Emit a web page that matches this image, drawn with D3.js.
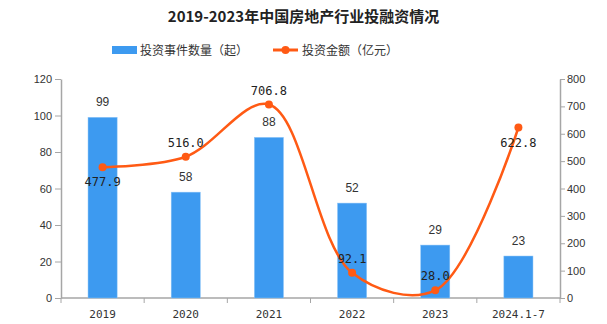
<!DOCTYPE html>
<html>
<head>
<meta charset="utf-8">
<script src="https://cdn.jsdelivr.net/npm/d3@7"></script>
<style>
  body { margin: 0; background: #fff; }
  svg { display: block; }
</style>
</head>
<body>
<div id="chart"></div>
<script>
// categories and values
var years = ["2019", "2020", "2021", "2022", "2023", "2024.1-7"];
var dealCounts = [99, 58, 88, 52, 29, 23];
var amounts = [477.9, 516.0, 706.8, 92.1, 28.0, 622.8];
var amountLabelBelow = [true, false, false, false, false, true];
var leftTicks = [0, 20, 40, 60, 80, 100, 120];
var rightTicks = [0, 100, 200, 300, 400, 500, 600, 700, 800];

var width = 607, height = 324,
    margin = {top: 79, right: 47, bottom: 26, left: 61},
    w = width - margin.left - margin.right,
    h = height - margin.top - margin.bottom;

var barColor = "#3d9af0", lineColor = "#ff5a14", axisColor = "#a6a6a6";
var monoFont = "'DejaVu Sans Mono', 'Liberation Mono', monospace";
var sansFont = "'Liberation Sans', Arial, sans-serif";
var cjkFont = "'Noto Sans CJK SC', sans-serif";

var svg = d3.select("#chart").append("svg")
    .attr("width", width).attr("height", height);

svg.append("text")
    .attr("x", width / 2).attr("y", 22)
    .attr("text-anchor", "middle")
    .attr("font-family", cjkFont)
    .attr("font-weight", "bold")
    .attr("font-size", 15)
    .attr("fill", "#222")
    .text("2019-2023年中国房地产行业投融资情况");

// legend
var lg = svg.append("g").attr("font-family", cjkFont).attr("font-size", 12).attr("fill", "#333");
lg.append("rect").attr("x", 112).attr("y", 46).attr("width", 25).attr("height", 8).attr("fill", barColor);
lg.append("text").attr("x", 140).attr("y", 55).text("投资事件数量（起）");
lg.append("line").attr("x1", 273).attr("x2", 298).attr("y1", 50).attr("y2", 50)
    .attr("stroke", lineColor).attr("stroke-width", 3);
lg.append("circle").attr("cx", 285.5).attr("cy", 50).attr("r", 4).attr("fill", lineColor);
lg.append("text").attr("x", 302).attr("y", 55).text("投资金额（亿元）");

var g = svg.append("g").attr("transform", "translate(" + margin.left + "," + margin.top + ")");

var x = d3.scaleBand().domain(years).range([0, w]).paddingInner(0.65).paddingOuter(0.325);
var xStep = d3.scaleLinear().domain([0, years.length]).range([0, w]);
var yLeft = d3.scaleLinear().domain([0, 120]).range([h, 0]);
var yRight = d3.scaleLinear().domain([0, 800]).range([h, 0]);

// x axis: line, boundary ticks, labels
var xAxis = g.append("g").attr("transform", "translate(0," + h + ")");
xAxis.append("line").attr("x1", 0).attr("x2", w).attr("stroke", axisColor).attr("stroke-width", 1.5);
xAxis.selectAll("line.tk").data(d3.range(years.length + 1)).enter().append("line")
    .attr("class", "tk")
    .attr("x1", function(d) { return xStep(d); }).attr("x2", function(d) { return xStep(d); })
    .attr("y1", 0).attr("y2", 5).attr("stroke", axisColor);
xAxis.selectAll("text").data(years).enter().append("text")
    .attr("x", function(d) { return x(d) + x.bandwidth() / 2; })
    .attr("y", 20)
    .attr("text-anchor", "middle")
    .attr("font-family", monoFont).attr("font-size", 11).attr("fill", "#333")
    .text(function(d) { return d; });

var leftAxis = g.append("g")
    .call(d3.axisLeft(yLeft).tickValues(leftTicks).tickSize(6).tickSizeOuter(0));
var rightAxis = g.append("g").attr("transform", "translate(" + w + ",0)")
    .call(d3.axisRight(yRight).tickValues(rightTicks).tickSize(5).tickSizeOuter(0));
[leftAxis, rightAxis].forEach(function(a) {
    a.select(".domain").attr("stroke", axisColor).attr("stroke-width", 1.5);
    a.selectAll(".tick line").attr("stroke", axisColor);
    a.selectAll(".tick text").attr("font-family", sansFont).attr("font-size", 11).attr("fill", "#333");
});
leftAxis.attr("font-family", null);
rightAxis.selectAll(".tick text").attr("x", 7);

// bars
g.selectAll("rect.bar").data(dealCounts).enter().append("rect")
    .attr("class", "bar")
    .attr("x", function(d, i) { return x(years[i]); })
    .attr("y", function(d) { return yLeft(d); })
    .attr("width", x.bandwidth())
    .attr("height", function(d) { return h - yLeft(d); })
    .attr("fill", barColor)
    .attr("stroke", "#8cc4f7").attr("stroke-width", 0.5);

g.selectAll("text.barlbl").data(dealCounts).enter().append("text")
    .attr("class", "barlbl")
    .attr("x", function(d, i) { return x(years[i]) + x.bandwidth() / 2; })
    .attr("y", function(d) { return yLeft(d) - 11; })
    .attr("text-anchor", "middle")
    .attr("font-family", sansFont).attr("font-size", 12).attr("fill", "#333")
    .text(function(d) { return d; });

// line
var cx = function(i) { return x(years[i]) + x.bandwidth() / 2; };
var line = d3.line()
    .x(function(d, i) { return cx(i); })
    .y(function(d) { return yRight(d); })
    .curve(d3.curveCatmullRom.alpha(0.5));

g.append("path").datum(amounts)
    .attr("fill", "none")
    .attr("stroke", lineColor)
    .attr("stroke-width", 2.5)
    .attr("d", line);

g.selectAll("circle.pt").data(amounts).enter().append("circle")
    .attr("class", "pt")
    .attr("cx", function(d, i) { return cx(i); })
    .attr("cy", function(d) { return yRight(d); })
    .attr("r", 4)
    .attr("fill", lineColor);

g.selectAll("text.amt").data(amounts).enter().append("text")
    .attr("class", "amt")
    .attr("x", function(d, i) { return cx(i); })
    .attr("y", function(d, i) { return yRight(d) + (amountLabelBelow[i] ? 19 : -10); })
    .attr("text-anchor", "middle")
    .attr("font-family", monoFont).attr("font-size", 12).attr("fill", "#222")
    .text(function(d) { return d.toFixed(1); });
</script>
</body>
</html>
